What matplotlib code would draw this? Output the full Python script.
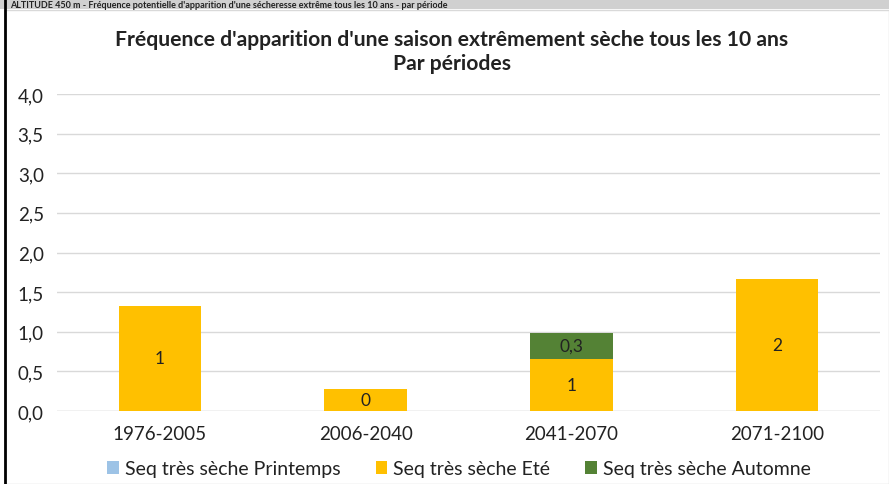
import matplotlib
matplotlib.use("Agg")
import matplotlib.pyplot as plt
from matplotlib.patches import Rectangle
from matplotlib.lines import Line2D

periods = ["1976-2005", "2006-2040", "2041-2070", "2071-2100"]
printemps = [0, 0, 0, 0]
ete = [1.33, 0.28, 0.66, 1.67]
automne = [0, 0, 0.33, 0]
series_names = ["Seq très sèche Printemps", "Seq très sèche Eté", "Seq très sèche Automne"]
yticks = [0.0, 0.5, 1.0, 1.5, 2.0, 2.5, 3.0, 3.5, 4.0]
title = "Fréquence d'apparition d'une saison extrêmement sèche tous les 10 ans\nPar périodes"
header = "ALTITUDE 450 m - Fréquence potentielle d'apparition d'une sécheresse extrême tous les 10 ans - par période"

plt.rcParams['font.family'] = ['Lato', 'DejaVu Sans']

W, H = 889, 485
fig = plt.figure(figsize=(W/100, H/100), dpi=100)

# header strip
fig.patches.append(Rectangle((0, 1 - 10/H), 1, 10/H, transform=fig.transFigure,
                             facecolor="#d0d0d0", edgecolor="none", zorder=-10))
fig.text(10/W, 1 - 5/H, header, fontsize=6.5, fontweight="bold", color="#222222",
         va="center", ha="left", zorder=1)
# chart area border
fig.patches.append(Rectangle((5/W, 0), 1 - 5/W, 1 - 11/H, transform=fig.transFigure,
                             facecolor="white", edgecolor="#d9d9d9", lw=1, zorder=-10))
fig.lines.append(Line2D([5/W, 5/W], [0, 1], transform=fig.transFigure, color="black", lw=2))

ax = fig.add_axes([57/W, 1 - 412/H, (880-57)/W, (412-95)/H])
ax.set_zorder(5)
ax.patch.set_alpha(0)
x = list(range(len(periods)))
w = 0.4
b1 = ax.bar(x, printemps, w, color="#9DC3E6", label=series_names[0], zorder=3)
b2 = ax.bar(x, ete, w, bottom=printemps, color="#FFC000", label=series_names[1], zorder=3)
bottom3 = [p + e for p, e in zip(printemps, ete)]
b3 = ax.bar(x, automne, w, bottom=bottom3, color="#548235", label=series_names[2], zorder=3)

for rect, v in zip(b2, ete):
    if v > 0:
        ax.text(rect.get_x() + rect.get_width()/2, rect.get_y() + rect.get_height()/2,
                f"{v:.0f}", ha="center", va="center", fontsize=12.5, color="#222222", zorder=4)
for rect, v in zip(b3, automne):
    if v > 0:
        ax.text(rect.get_x() + rect.get_width()/2, rect.get_y() + rect.get_height()/2,
                f"{v:.1f}".replace(".", ","), ha="center", va="center", fontsize=12.5,
                color="#222222", zorder=4)

ax.set_ylim(0, 4.0)
ax.set_xlim(-0.5, 3.5)
ax.set_yticks(yticks)
ax.set_yticklabels([f"{t:.1f}".replace(".", ",") for t in yticks])
ax.set_xticks(x)
ax.set_xticklabels(periods)
ax.tick_params(axis="both", length=0, labelsize=13.5, labelcolor="#222222")
ax.tick_params(axis="x", pad=10)
ax.tick_params(axis="y", pad=9.5)
ax.grid(axis="y", color="#d9d9d9", lw=1, zorder=0)
for s in ax.spines.values():
    s.set_visible(False)
ax.axhline(0, color="#d9d9d9", lw=1, zorder=2)

fig.text(452/W, 1 - 52/H, title, ha="center", va="center", fontsize=15.2,
         fontweight="bold", color="#222222", linespacing=1.2)

fig.legend(handles=[b1, b2, b3], loc="center", bbox_to_anchor=(459/W, 1 - 470/H),
           ncol=3, frameon=False, fontsize=14, handlelength=0.6, handleheight=0.6,
           handletextpad=0.3, columnspacing=1.8, labelcolor="#222222")

fig.savefig("out.png", dpi=100)
